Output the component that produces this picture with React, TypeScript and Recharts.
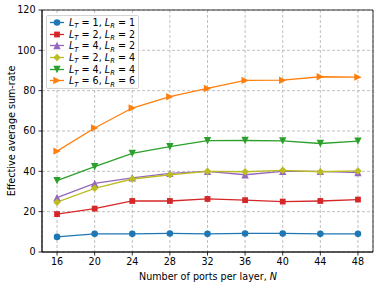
import React from 'react';
import { LineChart, Line, XAxis, YAxis, CartesianGrid, ReferenceArea } from 'recharts';

// number of ports per layer
const ports = [16, 20, 24, 28, 32, 36, 40, 44, 48];
// effective average sum-rate per (L_T, L_R)
const rate11 = [7.5, 9.0, 9.0, 9.2, 9.0, 9.2, 9.2, 9.0, 9.0];
const rate22 = [18.8, 21.5, 25.3, 25.3, 26.3, 25.7, 25.0, 25.3, 26.0];
const rate42 = [27.0, 34.0, 36.8, 39.0, 40.0, 38.3, 40.0, 40.0, 39.4];
const rate24 = [24.7, 31.6, 36.2, 38.3, 40.0, 39.8, 40.5, 39.8, 40.2];
const rate44 = [35.4, 42.3, 48.9, 52.2, 55.2, 55.3, 55.1, 53.8, 55.0];
const rate66 = [50.0, 61.5, 71.4, 77.0, 81.1, 85.1, 85.2, 86.9, 86.7];
const yTicks = [0, 20, 40, 60, 80, 100, 120];

type Shape = 'o' | 's' | '^' | 'D' | 'v' | '>';

const series: { key: string; lt: number; lr: number; color: string; shape: Shape; values: number[] }[] = [
  { key: 'r11', lt: 1, lr: 1, color: '#1f77b4', shape: 'o', values: rate11 },
  { key: 'r22', lt: 2, lr: 2, color: '#d62728', shape: 's', values: rate22 },
  { key: 'r42', lt: 4, lr: 2, color: '#9467bd', shape: '^', values: rate42 },
  { key: 'r24', lt: 2, lr: 4, color: '#bcbd22', shape: 'D', values: rate24 },
  { key: 'r44', lt: 4, lr: 4, color: '#2ca02c', shape: 'v', values: rate44 },
  { key: 'r66', lt: 6, lr: 6, color: '#ff7f0e', shape: '>', values: rate66 },
];

const data = ports.map((n, i) => {
  const row: Record<string, number> = { n };
  series.forEach(s => { row[s.key] = s.values[i]; });
  return row;
});

const FONT = '"DejaVu Sans", sans-serif';
const FS = 9.6;

function Marker({ shape, x, y, color }: { shape: Shape; x: number; y: number; color: string }) {
  const h = 3.7;
  switch (shape) {
    case 'o':
      return <circle cx={x} cy={y} r={3.3} fill={color} />;
    case 's':
      return <rect x={x - 2.9} y={y - 2.9} width={5.8} height={5.8} fill={color} />;
    case '^':
      return <polygon points={`${x},${y - h} ${x - h},${y + h} ${x + h},${y + h}`} fill={color} />;
    case 'v':
      return <polygon points={`${x},${y + h} ${x - h},${y - h} ${x + h},${y - h}`} fill={color} />;
    case '>':
      return <polygon points={`${x + h},${y} ${x - h},${y - h} ${x - h},${y + h}`} fill={color} />;
    case 'D':
      return <polygon points={`${x},${y - 3.8} ${x + 3.8},${y} ${x},${y + 3.8} ${x - 3.8},${y}`} fill={color} />;
  }
  return null;
}

function Legendbox() {
  return (
    <div style={{
      position: 'absolute', left: 46, top: 14.5, padding: '1px 3px 1px 0',
      border: '1px solid #d4d4d4', borderRadius: 2, background: 'rgba(255,255,255,0.8)',
      fontFamily: FONT, fontSize: FS, color: '#000',
    }}>
      {series.map(s => (
        <div key={s.key} style={{ display: 'flex', alignItems: 'center', height: 11.7 }}>
          <svg width={22} height={11} style={{ flex: 'none' }}>
            <line x1={3} x2={17} y1={5.5} y2={5.5} stroke={s.color} strokeWidth={1.3} />
            <Marker shape={s.shape} x={10} y={5.5} color={s.color} />
          </svg>
          <span style={{ whiteSpace: 'nowrap' }}>
            <i>L</i><i style={{ fontSize: '0.7em', position: 'relative', top: '0.35em' }}>T</i>
            {` = ${s.lt}, `}
            <i>L</i><i style={{ fontSize: '0.7em', position: 'relative', top: '0.35em' }}>R</i>
            {` = ${s.lr}`}
          </span>
        </div>
      ))}
    </div>
  );
}

export default function App() {
  const tick = { fill: '#000', fontSize: FS, fontFamily: FONT };
  return (
    <div style={{ position: 'absolute', left: 0, top: 0, width: 380, height: 288, background: '#fff' }}>
      <LineChart width={380} height={288} data={data} margin={{ top: 10, right: 7, bottom: 0, left: 0 }}>
        <CartesianGrid stroke="#b0b0b0" strokeDasharray="3 2" strokeWidth={0.8} />
        <XAxis
          dataKey="n"
          type="number"
          domain={[14.4, 49.6]}
          ticks={ports}
          height={36}
          tick={tick}
          tickSize={3.5}
          tickMargin={2.5}
          axisLine={{ stroke: '#000', strokeWidth: 0.8 }}
          tickLine={{ stroke: '#000', strokeWidth: 0.8 }}
          label={{
            content: () => (
              <text x={208} y={280} textAnchor="middle" fontFamily={FONT} fontSize={FS} fill="#000">
                Number of ports per layer, <tspan fontStyle="italic">N</tspan>
              </text>
            ),
          }}
        />
        <YAxis
          type="number"
          domain={[0, 120]}
          ticks={yTicks}
          width={42}
          tick={tick}
          tickSize={3.5}
          tickMargin={3}
          axisLine={{ stroke: '#000', strokeWidth: 0.8 }}
          tickLine={{ stroke: '#000', strokeWidth: 0.8 }}
          label={{
            content: () => (
              <text x={14.5} y={131} transform="rotate(-90, 14.5, 131)" textAnchor="middle"
                fontFamily={FONT} fontSize={FS} fill="#000">
                Effective average sum-rate
              </text>
            ),
          }}
        />
        {series.map(s => (
          <Line
            key={s.key}
            dataKey={s.key}
            stroke={s.color}
            strokeWidth={1.3}
            isAnimationActive={false}
            activeDot={false}
            dot={(p: any) => <Marker key={`${s.key}-${p.index}`} shape={s.shape} x={p.cx} y={p.cy} color={s.color} />}
          />
        ))}
        <ReferenceArea x1={14.4} x2={49.6} y1={0} y2={120} fill="none" stroke="#000" strokeWidth={0.8} />
      </LineChart>
      <Legendbox />
    </div>
  );
}
